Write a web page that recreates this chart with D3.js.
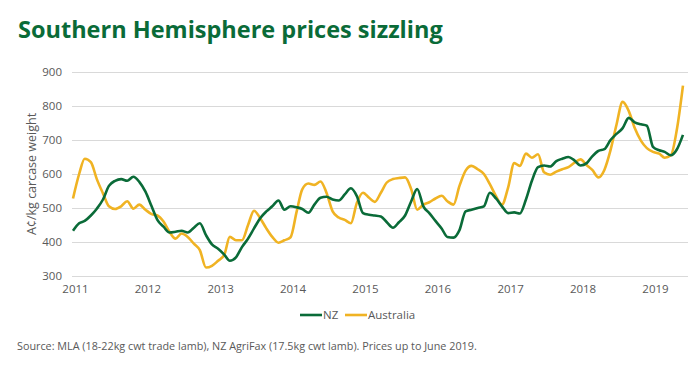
<!DOCTYPE html>
<html>
<head>
<meta charset="utf-8">
<script src="https://cdn.jsdelivr.net/npm/d3@7"></script>
<style>
  body { margin: 0; background: #fff; }
  text { font-family: "Open Sans", sans-serif; }
</style>
</head>
<body>
<script>
var svg_width = 700;
var svg_height = 366;

// monthly values, Jan 2011 - Jun 2019 (A c/kg cwt)
var months = d3.timeMonth.range(new Date(2011, 0, 1), new Date(2019, 6, 1));
var nz = [433, 455, 462, 478, 498, 525, 565, 580, 585, 580, 592, 577,
          548, 505, 465, 445, 428, 430, 433, 428, 442, 455, 420, 393,
          380, 363, 345, 355, 385, 410, 440, 470, 490, 505, 522, 495,
          505, 502, 497, 486, 510, 530, 533, 525, 522, 540, 558, 535,
          485, 480, 478, 475, 458, 442, 458, 478, 520, 556, 505, 485,
          462, 440, 415, 413, 435, 490, 495, 500, 505, 545, 528, 505,
          485, 487, 484, 525, 580, 620, 625, 622, 638, 645, 650, 640,
          625, 632, 652, 668, 673, 700, 718, 735, 765, 752, 746, 742,
          680, 670, 665, 655, 672, 715];
var australia = [528, 600, 645, 635, 585, 543, 505, 497, 505, 520, 498, 510,
                 495, 482, 478, 460, 430, 410, 425, 415, 395, 376, 325, 330,
                 345, 362, 415, 405, 405, 450, 492, 470, 440, 415, 398, 405,
                 414, 490, 555, 572, 568, 578, 545, 490, 472, 465, 455, 515,
                 545, 530, 518, 545, 575, 585, 588, 590, 555, 495, 510, 517,
                 528, 536, 520, 510, 565, 610, 624, 614, 600, 570, 535, 510,
                 560, 632, 624, 660, 648, 658, 605, 598, 607, 614, 620, 633,
                 643, 626, 612, 590, 612, 670, 745, 812, 785, 735, 698, 676,
                 665, 660, 648, 655, 730, 860];
var yTicks = [300, 400, 500, 600, 700, 800, 900];

var green = '#0a6b38';
var gold = '#f0b323';

var svg = d3.select('body').append('svg')
            .attr('width', svg_width)
            .attr('height', svg_height);

svg.append('text')
    .attr('x', 18).attr('y', 38)
    .attr('fill', green)
    .attr('font-size', 23.5)
    .attr('font-weight', 700)
    .text('Southern Hemisphere prices sizzling');

var xscale = d3.scaleTime()
    .domain([new Date(2011, 0, 1), new Date(2019, 0, 1)])
    .range([73, 653]);
var yscale = d3.scaleLinear().domain([300, 900]).range([276, 72]);

// gridlines
svg.append('g')
    .selectAll('line')
    .data(yTicks)
    .enter().append('line')
    .attr('x1', 72).attr('x2', 688)
    .attr('y1', function(d) { return yscale(d) + 0.5; })
    .attr('y2', function(d) { return yscale(d) + 0.5; })
    .attr('stroke', '#d9d9d9')
    .attr('stroke-width', 1.2);

var yaxis = d3.axisLeft(yscale).tickValues(yTicks).tickSize(0).tickPadding(10);
svg.append('g')
    .attr('transform', 'translate(72, 0)')
    .call(yaxis)
    .call(function(g) { g.select('.domain').remove(); })
    .selectAll('text')
    .attr('fill', '#595959')
    .attr('font-size', 11.5)
    .attr('font-family', '"Open Sans", sans-serif');

var xaxis = d3.axisBottom(xscale).ticks(d3.timeYear.every(1)).tickFormat(d3.timeFormat('%Y')).tickSize(0).tickPadding(9);
svg.append('g')
    .attr('transform', 'translate(2, 276)')
    .call(xaxis)
    .call(function(g) { g.select('.domain').remove(); })
    .selectAll('text')
    .attr('fill', '#595959')
    .attr('font-size', 11.5)
    .attr('font-family', '"Open Sans", sans-serif');

svg.append('text')
    .attr('transform', 'translate(36, 174) rotate(-90)')
    .attr('text-anchor', 'middle')
    .attr('fill', '#595959')
    .attr('font-size', 12.5)
    .text('A\u00a2/kg carcase weight');

var line = function(values) {
  return d3.line()
    .x(function(d, i) { return xscale(months[i]); })
    .y(function(d) { return yscale(d); })
    .curve(d3.curveMonotoneX)(values);
};

svg.append('path')
    .attr('d', line(australia))
    .attr('fill', 'none')
    .attr('stroke', gold)
    .attr('stroke-width', 2.6);

svg.append('path')
    .attr('d', line(nz))
    .attr('fill', 'none')
    .attr('stroke', green)
    .attr('stroke-width', 2.6);

// legend
var legend = [{name: 'NZ', color: green, x: 300}, {name: 'Australia', color: gold, x: 345}];
var lg = svg.append('g').selectAll('g').data(legend).enter().append('g')
    .attr('transform', function(d) { return 'translate(' + d.x + ', 315)'; });
lg.append('line')
    .attr('x1', 0).attr('x2', 22)
    .attr('stroke', function(d) { return d.color; })
    .attr('stroke-width', 2.6);
lg.append('text')
    .attr('x', 23).attr('y', 4)
    .attr('fill', '#595959')
    .attr('font-size', 11.5)
    .text(function(d) { return d.name; });

svg.append('text')
    .attr('x', 17).attr('y', 350)
    .attr('fill', '#595959')
    .attr('font-size', 10.8)
    .text('Source: MLA (18-22kg cwt trade lamb), NZ AgriFax (17.5kg cwt lamb). Prices up to June 2019.');
</script>
</body>
</html>
